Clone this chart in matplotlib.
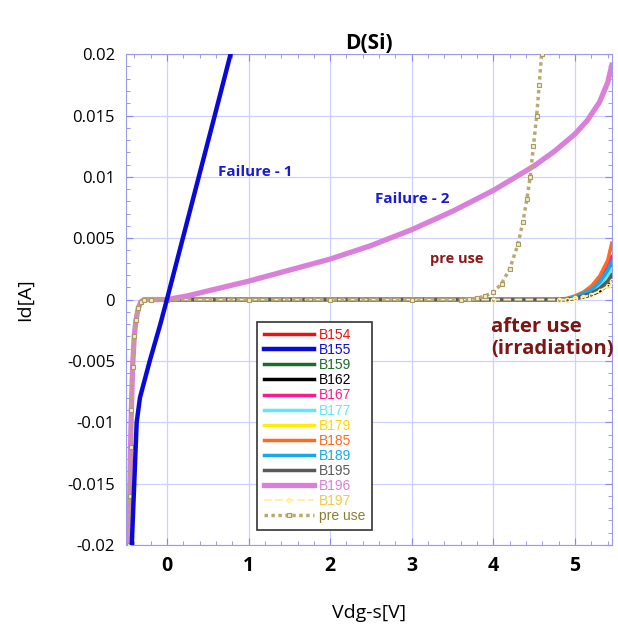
import matplotlib
matplotlib.use('Agg')
import matplotlib.pyplot as plt
from matplotlib.ticker import MultipleLocator

# body-diode region shared by most curves
x_body = [-0.46, -0.455, -0.445, -0.435, -0.42, -0.40, -0.38, -0.35, -0.32, -0.28, -0.2]
y_body = [-0.02, -0.016, -0.012, -0.009, -0.0055, -0.003, -0.0017, -0.0007, -0.0002, 0.0, 0.0]

# after-use devices: flat then rise near 5 V
x_after = x_body + [0.0, 1.0, 2.0, 3.0, 4.0, 4.8, 4.9, 5.0, 5.1, 5.2, 5.3, 5.4, 5.45]
tails = {
    'B154': [0, 0, 0, 0, 0, 0, 0.00005, 0.0002, 0.0004, 0.0007, 0.0012, 0.0021, 0.0028],
    'B159': [0, 0, 0, 0, 0, 0, 0.00005, 0.0002, 0.0004, 0.0007, 0.0012, 0.0021, 0.0029],
    'B162': [0, 0, 0, 0, 0, 0, 0.0, 0.0001, 0.0002, 0.0004, 0.0007, 0.0012, 0.0016],
    'B167': [0, 0, 0, 0, 0, 0, 0.00005, 0.0002, 0.0005, 0.0009, 0.0015, 0.0026, 0.0035],
    'B177': [0, 0, 0, 0, 0, 0, 0.00005, 0.0002, 0.0004, 0.0007, 0.0011, 0.0019, 0.0025],
    'B179': [0, 0, 0, 0, 0, 0, 0.0, 0.0001, 0.0003, 0.0005, 0.0009, 0.0015, 0.0020],
    'B185': [0, 0, 0, 0, 0, 0, 0.0001, 0.0003, 0.0006, 0.0011, 0.0019, 0.0032, 0.0046],
    'B189': [0, 0, 0, 0, 0, 0, 0.00005, 0.0002, 0.0005, 0.0008, 0.0014, 0.0024, 0.0031],
    'B195': [0, 0, 0, 0, 0, 0, 0.0, 0.0001, 0.0003, 0.0005, 0.0009, 0.0015, 0.0020],
    'B197': [0, 0, 0, 0, 0, 0, 0.0, 0.0001, 0.0002, 0.0004, 0.0007, 0.0011, 0.0015],
}

# failure devices
x_b155 = [-0.43, -0.40, -0.37, -0.33, -0.21, -0.08, 0.0, 0.59, 0.78]
y_b155 = [-0.02, -0.015, -0.010, -0.008, -0.005, -0.002, 0.0, 0.0151, 0.02]

x_b196 = x_body + [-0.1, 0.0, 0.25, 0.5, 0.75, 1.0, 1.5, 2.0, 2.5, 3.0, 3.5, 4.0, 4.25, 4.5,
                   4.75, 5.0, 5.15, 5.3, 5.4, 5.45]
y_b196 = y_body + [0.0, 0.0, 0.0003, 0.0007, 0.0011, 0.0015, 0.0024, 0.0033, 0.0044, 0.0057,
                   0.0072, 0.0089, 0.0099, 0.0109, 0.0121, 0.0135, 0.0146, 0.0161, 0.0177, 0.0191]

x_pre = x_body + [0.0, 1.0, 2.0, 3.0, 3.6, 3.7, 3.8, 3.9, 4.0, 4.1, 4.2, 4.3, 4.36, 4.41, 4.45,
                  4.49, 4.53, 4.56, 4.59]
y_pre = y_body + [0.0, 0.0, 0.0, 0.0, 0.0, 0.00005, 0.0001, 0.0003, 0.0006, 0.0013, 0.0025, 0.0045,
                  0.0063, 0.0082, 0.0100, 0.0125, 0.0150, 0.0175, 0.0200]

names = ['B154', 'B155', 'B159', 'B162', 'B167', 'B177', 'B179', 'B185', 'B189', 'B195', 'B196', 'B197']
colors = {
    'B154': '#ee1111', 'B155': '#0a0ad8', 'B159': '#1c6b2c', 'B162': '#000000',
    'B167': '#ff1a8c', 'B177': '#5ee8ff', 'B179': '#ffee00', 'B185': '#ff6a1e',
    'B189': '#14aaea', 'B195': '#5a5a5a', 'B196': '#da80da', 'B197': '#fff0b0',
}
text_colors = dict(colors)
text_colors['B179'] = '#ffd800'
text_colors['B197'] = '#f5c848'
text_colors['pre use'] = '#8b7d2e'

fig = plt.figure(figsize=(6.18, 6.30), dpi=100)
ax = fig.add_axes([0.204, 0.135, 0.786, 0.779])

handles = []
for name in names:
    if name == 'B155':
        h, = ax.plot(x_b155, y_b155, color=colors[name], lw=3.2, zorder=6, label=name)
    elif name == 'B196':
        h, = ax.plot(x_b196, y_b196, color=colors[name], lw=3.8, zorder=4, label=name)
    elif name == 'B197':
        h, = ax.plot(x_after, y_body + tails[name], color=colors[name], lw=1.5, ls='--',
                     marker='o', ms=3, mfc='none', zorder=3, label=name)
    else:
        h, = ax.plot(x_after, y_body + tails[name], color=colors[name], lw=2.5, zorder=3, label=name)
    handles.append(h)

h_pre, = ax.plot(x_pre, y_pre, color='#b8aa72', lw=2.5, ls=(0, (1, 1)), marker='s', ms=3,
                 mfc='#f0ead0', mec='#a89a60', mew=0.8, zorder=5, label='pre use')
handles.append(h_pre)

ax.set_xlim(-0.5, 5.45)
ax.set_ylim(-0.02, 0.02)
ax.xaxis.set_minor_locator(MultipleLocator(0.2))
ax.yaxis.set_minor_locator(MultipleLocator(0.001))
ax.set_yticks([-0.02, -0.015, -0.01, -0.005, 0, 0.005, 0.01, 0.015, 0.02])
ax.set_yticklabels(['-0.02', '-0.015', '-0.01', '-0.005', '0', '0.005', '0.01', '0.015', '0.02'],
                   fontsize=12, family='Open Sans')
ax.set_xticks([0, 1, 2, 3, 4, 5])
ax.set_xticklabels(['0', '1', '2', '3', '4', '5'], fontsize=14, fontweight='bold', family='Open Sans')

ax.grid(True, which='major', color='#d0d0ff', lw=0.9)
for s in ax.spines.values():
    s.set_color('#9a9af0')
ax.tick_params(which='both', direction='in', top=True, right=True, color='#8888ee')
ax.tick_params(which='major', length=5, pad=8)
ax.tick_params(which='minor', length=3)

ax.set_title('D(Si)', fontsize=15, fontweight='bold', family='Open Sans', pad=1)
ax.set_ylabel('Id[A]', fontsize=14, family='Open Sans', labelpad=24)
ax.set_xlabel('Vdg-s[V]', fontsize=14, family='Open Sans', labelpad=20)

ax.text(0.62, 0.0104, 'Failure - 1', color='#1a1ad0', fontsize=11, fontweight='bold',
        family='Open Sans', ha='left', va='center')
ax.text(2.55, 0.0082, 'Failure - 2', color='#1a1ad0', fontsize=11, fontweight='bold',
        family='Open Sans', ha='left', va='center')
ax.text(3.22, 0.0033, 'pre use', color='#8b1a1a', fontsize=10.5, fontweight='bold',
        family='Open Sans', ha='left', va='center')
ax.text(3.97, -0.0014, 'after use\n(irradiation)', color='#7e1414', fontsize=14.6, fontweight='bold',
        family='Open Sans', ha='left', va='top', linespacing=1.15)

leg = ax.legend(handles=handles, loc='upper left', bbox_to_anchor=(0.256, 0.469),
                labelspacing=0.08, handlelength=3.6, handletextpad=0.4,
                borderpad=0.45, fancybox=False, framealpha=1, edgecolor='#333333',
                prop={'family': 'Liberation Sans', 'size': 10})
leg.get_frame().set_linewidth(1.2)
for txt, name in zip(leg.get_texts(), names + ['pre use']):
    txt.set_color(text_colors[name])

fig.savefig('out.png', dpi=100, facecolor='white')
